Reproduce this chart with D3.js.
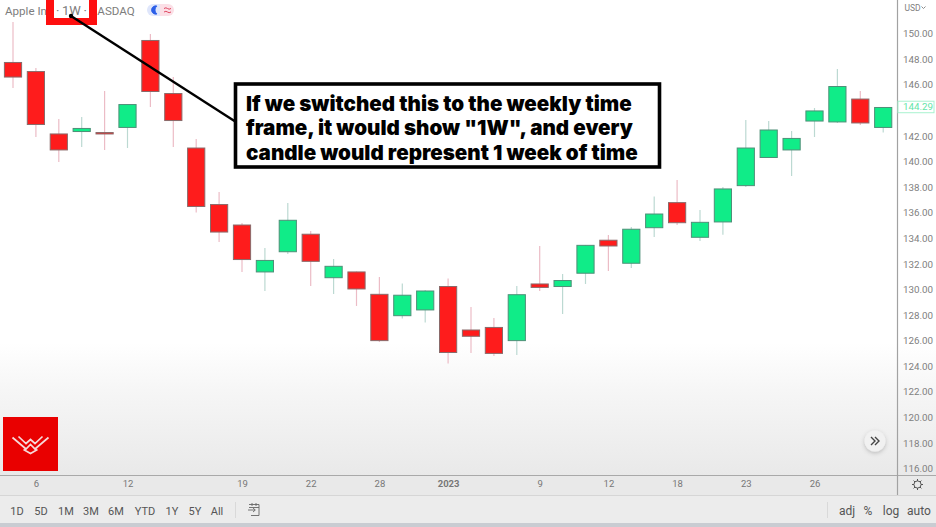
<!DOCTYPE html>
<html><head><meta charset="utf-8">
<script src="https://cdnjs.cloudflare.com/ajax/libs/d3/7.8.5/d3.min.js"></script>
<style>html,body{margin:0;padding:0;background:#fff;overflow:hidden}svg{display:block}text{font-family:Roboto,sans-serif}text.note{font-family:Inter,sans-serif;font-weight:900}</style>
</head><body><svg id="c" width="936" height="527"></svg>
<script>
const opens  = [147.75,147.04,142.16,142.35,142.27,142.67,149.47,145.32,141.06,136.64,135.04,131.37,132.95,134.32,130.92,131.37,129.62,127.95,128.40,130.23,126.83,127.03,126.00,130.43,130.23,131.27,133.85,132.05,134.83,136.79,134.08,135.28,138.12,140.32,140.91,143.17,143.10,144.89,142.67];
const highs  = [150.91,147.32,143.33,143.49,145.52,144.46,149.98,146.61,141.77,137.62,135.20,133.24,136.76,134.57,132.38,131.41,130.98,130.47,129.96,130.86,128.63,127.77,130.27,133.40,131.21,133.48,134.26,134.89,137.27,138.56,136.21,138.01,143.25,143.17,142.39,144.19,147.24,145.52,144.27];
const lows   = [145.75,141.92,139.97,141.14,140.91,141.06,144.27,141.14,136.02,133.71,131.37,129.88,132.77,130.27,129.65,128.71,125.89,127.73,127.42,124.21,125.03,124.80,124.88,129.88,128.08,130.43,131.45,131.68,134.10,135.04,133.79,134.27,138.01,140.28,138.87,141.92,143.02,142.86,142.27];
const closes = [146.61,142.90,140.91,142.59,142.16,144.46,145.48,143.21,136.49,134.49,132.34,132.27,135.41,132.20,131.81,130.04,126.00,129.55,129.88,125.07,126.34,125.00,129.59,130.16,130.70,133.45,133.40,134.71,135.90,135.22,135.25,137.86,141.06,142.47,141.81,143.96,145.87,143.02,144.23];
const priceTicks = [116,118,120,122,124,126,128,130,132,134,136,138,140,142,146,148,150];
const timeTickIndex = [1,5,10,13,16,19,23,26,29,32,35];
const timeTickLabels = ["6","12","19","22","28","2023","9","12","18","23","26"];
const rangeButtons = ["1D","5D","1M","3M","6M","YTD","1Y","5Y","All"];
const rangeCenters = [17,41,66,91,116,145,172,195,217];
const scaleButtons = ["adj","%","log","auto"];
const scaleCenters = [847,868,891,919];
const lastPrice = 144.29;
const noteLines = ["If we switched this to the weekly time","frame, it would show \"1W\", and every","candle would represent 1 week of time"];

const svg = d3.select("#c");
const y = d3.scaleLinear().domain([116,150]).range([468.5,33.7]);
const x = d3.scaleLinear().domain([0,38]).range([13,883.2]);
const UP="#10ec88", DOWN="#fe1c1c";

const defs = svg.append("defs");
const g = defs.append("linearGradient").attr("id","bg").attr("x1",0).attr("x2",0).attr("y1",0).attr("y2",1);
[[0,"#ffffff"],[.72,"#ffffff"],[.82,"#f6f6f6"],[1,"#e9e9e9"]].forEach(s=>g.append("stop").attr("offset",s[0]).attr("stop-color",s[1]));
const sh = defs.append("filter").attr("id","sh").attr("x","-50%").attr("y","-50%").attr("width","200%").attr("height","200%");
sh.append("feDropShadow").attr("dx",0).attr("dy",1.5).attr("stdDeviation",2).attr("flood-color","#000").attr("flood-opacity",.22);

svg.append("rect").attr("width",936).attr("height",476).attr("fill","url(#bg)");
svg.append("rect").attr("y",476).attr("width",936).attr("height",20).attr("fill","#e9e9e9");
svg.append("rect").attr("y",496).attr("width",936).attr("height",27).attr("fill","#ececec");
svg.append("rect").attr("y",523).attr("width",936).attr("height",4).attr("fill","#c9ccd2");

// candles
const idx = d3.range(opens.length);
const cg = svg.append("g");
cg.selectAll("line").data(idx).join("line")
  .attr("x1",i=>x(i)).attr("x2",i=>x(i)).attr("y1",i=>y(highs[i])).attr("y2",i=>y(lows[i]))
  .attr("stroke",i=>closes[i]>=opens[i]?"#bcd9d2":"#ecbcc6").attr("stroke-width",1.2);
cg.selectAll("rect").data(idx).join("rect")
  .attr("x",i=>x(i)-8.6).attr("width",17.2)
  .attr("y",i=>y(Math.max(opens[i],closes[i])))
  .attr("height",i=>Math.abs(y(opens[i])-y(closes[i])))
  .attr("fill",i=>closes[i]>=opens[i]?UP:DOWN)
  .attr("stroke",i=>closes[i]>=opens[i]?"#4f8f78":"#8a6a6a").attr("stroke-width",1);

// frame lines
svg.append("line").attr("x1",0).attr("x2",936).attr("y1",475.5).attr("y2",475.5).attr("stroke","#a9a9a9").attr("stroke-width",1.2);
svg.append("line").attr("x1",0).attr("x2",936).attr("y1",495.5).attr("y2",495.5).attr("stroke","#d6d6d6");
svg.append("line").attr("x1",897.5).attr("x2",897.5).attr("y1",0).attr("y2",495).attr("stroke","#a2a2a2").attr("stroke-width",1.2);

// axes
const ya = d3.axisRight(y).tickValues(priceTicks).tickFormat(d3.format(".2f")).tickSize(0).tickPadding(0);
const yg = svg.append("g").attr("transform","translate(903,0)").call(ya);
yg.select(".domain").remove();
yg.selectAll("text").attr("fill","#808080").attr("font-size",9.8);
const xa = d3.axisBottom(x).tickValues(timeTickIndex).tickFormat((d,i)=>timeTickLabels[i]).tickSize(0).tickPadding(0);
const xg = svg.append("g").attr("transform","translate(0,480)").call(xa);
xg.select(".domain").remove();
xg.selectAll("text").attr("fill","#777").attr("font-size",9.5).attr("dy","0.71em")
  .attr("font-weight",(d,i)=>timeTickLabels[i]==="2023"?700:400);

// last price
svg.append("rect").attr("x",898).attr("y",y(lastPrice)-5.5).attr("width",36).attr("height",11.5).attr("fill","#fff").attr("stroke","#a8f2cf").attr("stroke-width",1);
svg.append("text").attr("x",903).attr("y",y(lastPrice)+3.6).attr("font-size",9.8).attr("fill","#63e5a8").text(lastPrice.toFixed(2));
svg.append("text").attr("x",904.5).attr("y",11).attr("font-size",8.5).attr("fill","#808080").text("USD");
svg.append("path").attr("d","M921.5 6.5l2 2 2-2").attr("fill","none").attr("stroke","#808080").attr("stroke-width",.9);

// title
svg.append("text").attr("x",5).attr("y",14.5).attr("font-size",11.6).attr("fill","#7d7d7d").text("Apple Inc");
svg.append("text").attr("x",89).attr("y",14.5).attr("font-size",11.6).attr("fill","#7d7d7d").text("NASDAQ");

// red highlight
svg.append("rect").attr("x",46).attr("y",-6).attr("width",51).attr("height",31).attr("fill","#fe0f0f");
svg.append("rect").attr("x",54).attr("y",0).attr("width",35).attr("height",18).attr("fill","#fff");
svg.append("text").attr("x",71.5).attr("y",14.5).attr("text-anchor","middle").attr("font-size",13).attr("fill","#7d7d7d").text("·\u20091W\u2009·");

// badges
svg.append("path").attr("d","M153 4h7v12h-7a6 6 0 0 1 0-12z").attr("fill","#dfe6fb");
svg.append("path").attr("d","M160 4h8a6 6 0 0 1 0 12h-8z").attr("fill","#fbdfe6");
svg.append("path").attr("d","M157 6a4.2 4.2 0 1 0 0 8a5 5 0 0 1 0-8z").attr("fill","#2a5ee8").attr("stroke","#2a5ee8").attr("stroke-width",.8);
svg.append("path").attr("d","M164 8.5q2-1.4 3.5 0t3.5 0M164 12q2-1.4 3.5 0t3.5 0").attr("fill","none").attr("stroke","#e0455f").attr("stroke-width",1);

// leader
svg.append("line").attr("x1",71).attr("y1",16).attr("x2",236).attr("y2",122).attr("stroke","#000").attr("stroke-width",2.4);
svg.append("circle").attr("cx",71).attr("cy",16).attr("r",2.2).attr("fill","#000");

// note
svg.append("rect").attr("x",235.5).attr("y",84).attr("width",424).attr("height",83).attr("fill","#fff").attr("stroke","#000").attr("stroke-width",3.6);
svg.append("g").selectAll("text").data(noteLines).join("text").attr("class","note")
  .attr("x",246).attr("y",(d,i)=>110.5+i*24.5)
  .attr("font-size",20.6).attr("fill","#000").text(d=>d);

// logo
svg.append("rect").attr("x",3).attr("y",417).attr("width",55).attr("height",54).attr("fill","#e90000");
svg.append("path").attr("d","M12.5 437.5L26 449L30.5 444.5L35 449L48.5 437.5M18.5 436.5L26 443.5L30.5 439.5L35 443.5L42.5 436.5M23.5 449.5L30.5 453.5L37.5 449.5")
  .attr("fill","none").attr("stroke","#f6d9d9").attr("stroke-width",1.7);

// scroll button
svg.append("circle").attr("cx",875).attr("cy",441).attr("r",10.5).attr("fill","#f1f1f1").attr("filter","url(#sh)");
svg.append("path").attr("d","M871 437l4 4-4 4M875 437l4 4-4 4").attr("fill","none").attr("stroke","#444").attr("stroke-width",1.4);

// toolbar
svg.append("g").selectAll("text").data(rangeButtons).join("text").attr("x",(d,i)=>rangeCenters[i]).attr("y",514.5)
  .attr("text-anchor","middle").attr("font-size",11).attr("fill","#555").text(d=>d);
svg.append("g").selectAll("text").data(scaleButtons).join("text").attr("x",(d,i)=>scaleCenters[i]).attr("y",514.5)
  .attr("text-anchor","middle").attr("font-size",12).attr("fill","#555").text(d=>d);
[235.5,827.5].forEach(v=>svg.append("line").attr("x1",v).attr("x2",v).attr("y1",502).attr("y2",518).attr("stroke","#d9d9d9"));

// calendar icon
svg.append("path").attr("d","M249 504.5h10v11h-8M252 503v3M256 503v3M248 510h7m-2-2l2.3 2-2.3 2M249 507.5h10").attr("fill","none").attr("stroke","#666").attr("stroke-width",.9);
// gear
svg.append("circle").attr("cx",917.5).attr("cy",484.5).attr("r",3.6).attr("fill","none").attr("stroke","#555").attr("stroke-width",1);
svg.append("path").attr("d","M917.5 479v2M917.5 488v2M912 484.5h2M921 484.5h2M913.6 480.6l1.4 1.4M920 487l1.4 1.4M913.6 488.4l1.4-1.4M920 482l1.4-1.4").attr("stroke","#555").attr("stroke-width",1);
</script></body></html>
